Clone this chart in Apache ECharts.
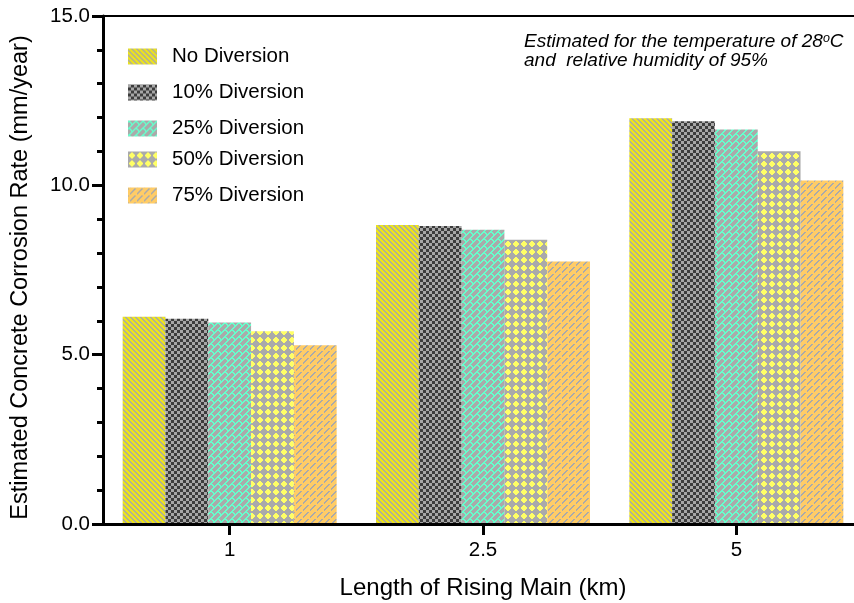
<!DOCTYPE html>
<html>
<head>
<meta charset="utf-8">
<script src="https://cdn.jsdelivr.net/npm/echarts@6/dist/echarts.min.js"></script>
<style>
  html, body { margin: 0; padding: 0; background: #ffffff; overflow: hidden; }
  #chart { width: 854px; height: 603px; }
</style>
</head>
<body>
<div id="chart"></div>
<script>
// Rising main lengths (km) and estimated corrosion rates (mm/year)
const categories = ['1', '2.5', '5'];
const seriesNames = ['No Diversion', '10% Diversion', '25% Diversion', '50% Diversion', '75% Diversion'];
const noDiversion = [6.12, 8.83, 11.98];
const diversion10 = [6.06, 8.80, 11.89];
const diversion25 = [5.95, 8.69, 11.65];
const diversion50 = [5.69, 8.39, 11.01];
const diversion75 = [5.28, 7.75, 10.14];
const seriesValues = [noDiversion, diversion10, diversion25, diversion50, diversion75];

const FONT = '"Liberation Sans", Arial, Helvetica, sans-serif';

function rgb(hex) {
  const n = parseInt(hex.slice(1), 16);
  return [(n >> 16) & 255, (n >> 8) & 255, n & 255];
}

// Build a repeating pixel pattern fill from a per-pixel colour picker
function makePattern(size, pick) {
  const c = document.createElement('canvas');
  c.width = size; c.height = size;
  const ctx = c.getContext('2d');
  const img = ctx.createImageData(size, size);
  for (let y = 0; y < size; y++) {
    for (let x = 0; x < size; x++) {
      const col = rgb(pick(x, y));
      const i = (y * size + x) * 4;
      img.data[i] = col[0]; img.data[i + 1] = col[1]; img.data[i + 2] = col[2]; img.data[i + 3] = 255;
    }
  }
  ctx.putImageData(img, 0, 0);
  return { image: c, repeat: 'repeat' };
}

const mod = (a, m) => ((a % m) + m) % m;

// diagonal "\" stripes
const stripePattern = makePattern(5, (x, y) => mod(x - y, 5) < 3 ? '#ece41c' : '#b0ad9a');
// fine checkerboard
const checkerPattern = makePattern(6, (x, y) => ((Math.floor(x / 3) + Math.floor(y / 3)) % 2) ? '#3c3c3c' : '#a6a6a6');
// staggered "/" dashes
function dashPick(p, test) {
  return (x, y) => {
    const s = x + y;
    const u = s % p;
    const band = Math.floor(s / p);
    const a = mod(x - y + band * p, 2 * p);
    return test(u, a);
  };
}
const cyanDashPattern = makePattern(14, dashPick(7, (u, a) => (u < 2 || a < 2) ? '#66ffcc' : '#aaaaaa'));
const orangeDashPattern = makePattern(14, dashPick(7, (u, a) => (u < 2 && a >= 3) ? '#aaaaaa' : '#ffcc66'));
// yellow diamonds on grey lattice
const diamondPattern = makePattern(8, (x, y) => (Math.abs(x - 3.5) + Math.abs(y - 3.5) <= 3) ? '#ffff66' : '#aaaaaa');

const fills = [stripePattern, checkerPattern, cyanDashPattern, diamondPattern, orangeDashPattern];

// legend rows are stacked individually
const legendRowTops = [46, 82, 118, 149, 185];

const chart = echarts.init(document.getElementById('chart'), null, { renderer: 'canvas' });

chart.setOption({
  animation: false,
  backgroundColor: '#ffffff',
  textStyle: { fontFamily: FONT },
  // the plot area deliberately runs past the right edge of the canvas
  grid: { left: 103, top: 16, width: 760, height: 508, containLabel: false, outerBoundsMode: 'none' },
  legend: seriesNames.map((name, i) => ({
    data: [name],
    left: 128,
    top: legendRowTops[i],
    padding: 0,
    icon: 'rect',
    itemWidth: 29,
    itemHeight: 16,
    selectedMode: false,
    textStyle: { fontFamily: FONT, fontSize: 20.5, color: '#000', padding: [0, 0, 0, 10] }
  })),
  xAxis: [
    {
      type: 'category',
      data: categories,
      z: 5,
      name: 'Length of Rising Main (km)',
      nameLocation: 'middle',
      nameGap: 52,
      nameTextStyle: { fontFamily: FONT, fontSize: 24, color: '#000' },
      axisLine: { show: true, lineStyle: { color: '#000', width: 3 } },
      axisTick: { show: true, alignWithLabel: true, length: 11, lineStyle: { color: '#000', width: 3 } },
      axisLabel: { fontFamily: FONT, fontSize: 20.5, color: '#000', margin: 16 },
      splitLine: { show: false }
    },
    {
      type: 'category',
      data: categories,
      position: 'top',
      z: 5,
      axisLine: { show: true, lineStyle: { color: '#000', width: 2 } },
      axisTick: { show: false },
      axisLabel: { show: false },
      splitLine: { show: false }
    }
  ],
  yAxis: {
    type: 'value',
    min: 0,
    max: 15,
    interval: 5,
    z: 5,
    name: 'Estimated Concrete Corrosion Rate (mm/year)',
    nameLocation: 'middle',
    nameGap: 70,
    nameTextStyle: { fontFamily: FONT, fontSize: 23.5, color: '#000', padding: [0, 15, 0, 0] },
    axisLine: { show: true, lineStyle: { color: '#000', width: 3 } },
    axisTick: { show: true, length: 11, lineStyle: { color: '#000', width: 3 } },
    minorTick: { show: true, splitNumber: 5, length: 6, lineStyle: { color: '#000', width: 3 } },
    splitLine: { show: false },
    minorSplitLine: { show: false },
    axisLabel: { fontFamily: FONT, fontSize: 20.5, color: '#000', margin: 13, formatter: v => v.toFixed(1) }
  },
  graphic: [{
    type: 'text',
    left: 524,
    top: 32,
    style: {
      text: '{a|Estimated for the temperature of 28}{s|o}{a|C}\n{a|and  relative humidity of 95%}',
      rich: {
        a: { fontFamily: FONT, fontStyle: 'italic', fontSize: 19, lineHeight: 19, fill: '#000' },
        s: { fontFamily: FONT, fontStyle: 'italic', fontSize: 12.5, lineHeight: 12, verticalAlign: 'top', fill: '#000' }
      }
    }
  }],
  series: seriesNames.map((name, i) => ({
    name,
    type: 'bar',
    xAxisIndex: 0,
    data: seriesValues[i],
    barWidth: 42.8,
    barGap: '0%',
    itemStyle: { color: fills[i] },
    emphasis: { disabled: true }
  }))
});
</script>
</body>
</html>
